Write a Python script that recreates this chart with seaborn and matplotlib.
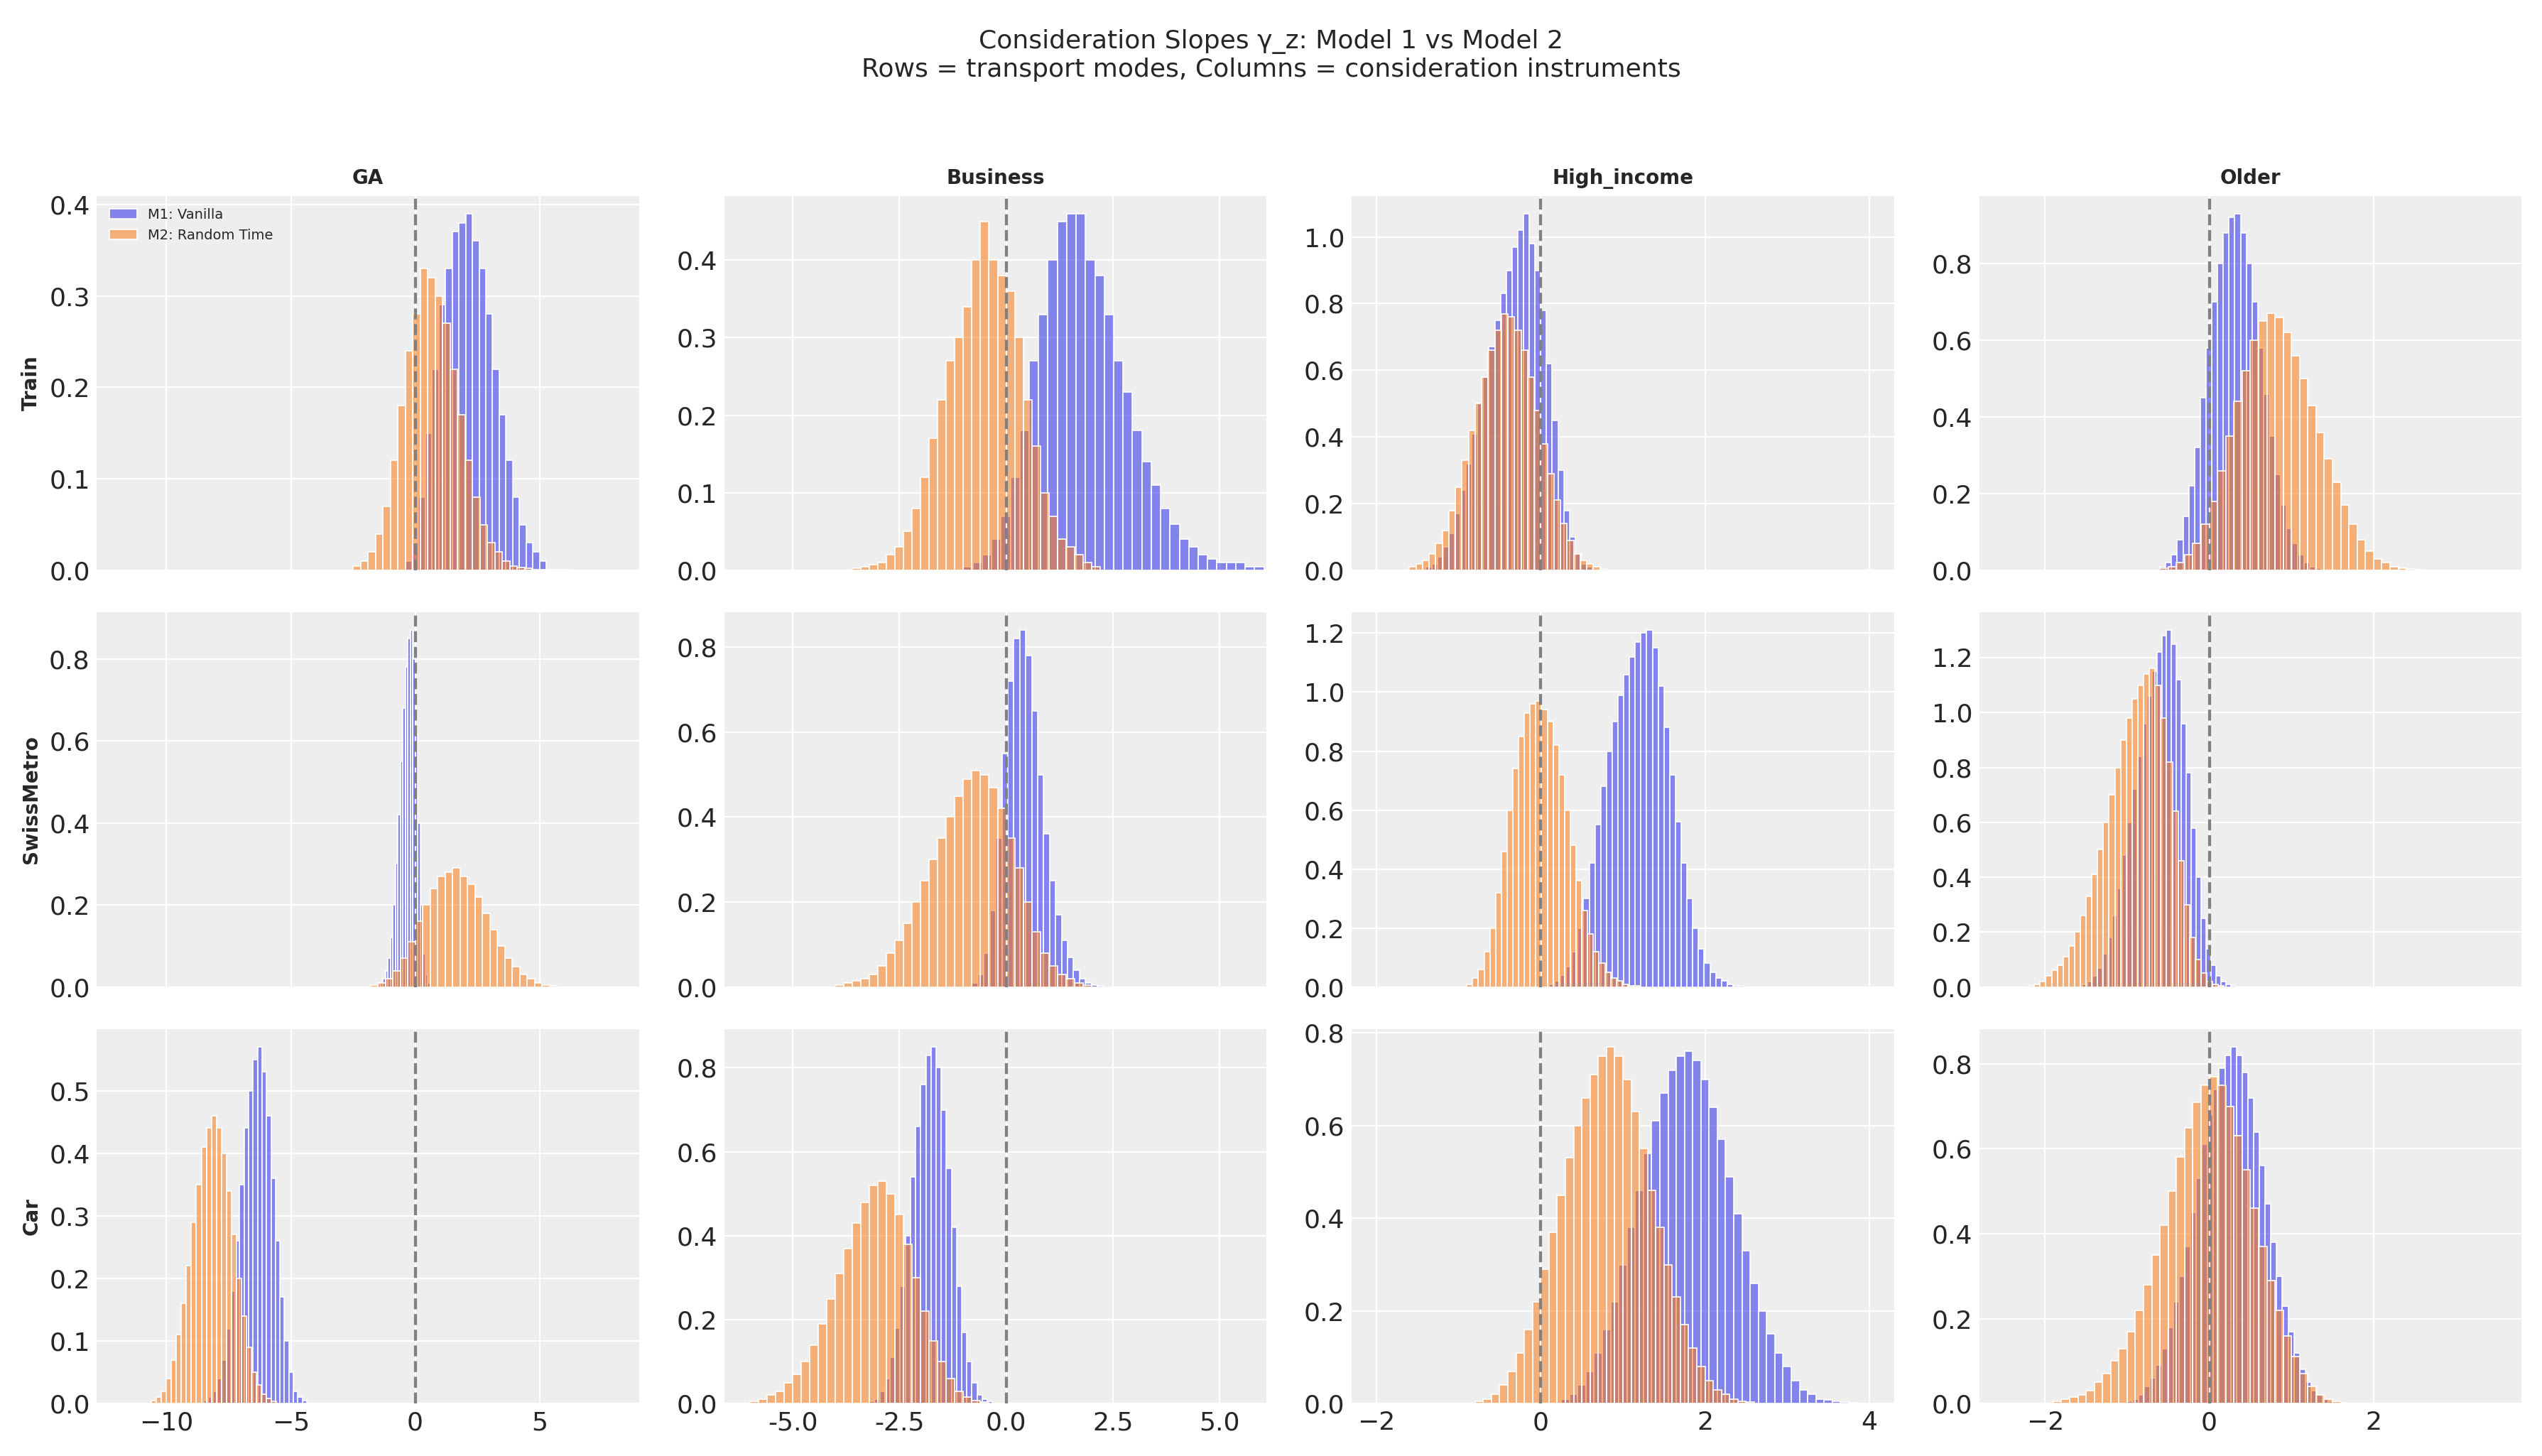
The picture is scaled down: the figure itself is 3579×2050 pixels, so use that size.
import numpy as np
import pandas as pd
import seaborn as sns
import matplotlib.pyplot as plt

rows = ['Train', 'SwissMetro', 'Car']
cols = ['GA', 'Business', 'High_income', 'Older']

# posterior histograms: (first bin left edge, bin width, densities)
m1_train = [
    (-0.4, 0.27, [0.01,0.03,0.08,0.15,0.22,0.29,0.33,0.37,0.38,0.39,0.36,0.33,0.28,0.22,0.17,0.12,0.08,0.05,0.03,0.02,0.01]),
    (-1.0, 0.22, [0.005,0.01,0.02,0.04,0.07,0.12,0.18,0.27,0.33,0.40,0.45,0.46,0.46,0.40,0.38,0.33,0.27,0.23,0.18,0.14,0.11,0.08,0.06,0.04,0.03,0.02,0.015,0.01,0.01,0.01,0.005,0.005]),
    (-1.4, 0.07, [0.01,0.02,0.04,0.07,0.11,0.17,0.24,0.32,0.41,0.50,0.58,0.67,0.75,0.83,0.90,0.97,1.02,1.07,0.98,0.90,0.78,0.62,0.45,0.30,0.18,0.10,0.05,0.02,0.01,0.005]),
    (-0.6, 0.07, [0.01,0.02,0.04,0.08,0.14,0.22,0.32,0.45,0.58,0.70,0.80,0.88,0.92,0.93,0.88,0.80,0.70,0.58,0.46,0.35,0.25,0.17,0.11,0.07,0.04,0.02,0.01,0.005,0.003,0.002]),
]
m2_train = [
    (-2.5, 0.3, [0.005,0.01,0.02,0.04,0.07,0.12,0.18,0.24,0.28,0.33,0.32,0.30,0.27,0.22,0.17,0.12,0.08,0.05,0.03,0.02,0.01,0.005,0.003,0.002,0.001,0.001,0.001,0.001,0.001]),
    (-3.6, 0.2, [0.003,0.005,0.007,0.01,0.02,0.03,0.05,0.08,0.12,0.17,0.22,0.27,0.30,0.34,0.40,0.45,0.40,0.38,0.36,0.30,0.22,0.16,0.10,0.07,0.04,0.03,0.02,0.01,0.005]),
    (-1.6, 0.08, [0.01,0.02,0.03,0.05,0.08,0.12,0.18,0.25,0.33,0.42,0.50,0.58,0.66,0.72,0.77,0.76,0.72,0.66,0.58,0.48,0.38,0.29,0.21,0.14,0.09,0.05,0.03,0.02,0.01,0.005]),
    (-0.6, 0.1, [0.005,0.01,0.02,0.04,0.07,0.12,0.18,0.26,0.35,0.44,0.52,0.60,0.65,0.67,0.66,0.62,0.56,0.50,0.43,0.36,0.29,0.23,0.17,0.12,0.08,0.05,0.03,0.02,0.01,0.005,0.003,0.002,0.001]),
]
m1_swiss = [
    (-1.5, 0.1, [0.005,0.01,0.02,0.04,0.07,0.12,0.2,0.3,0.42,0.55,0.68,0.78,0.85,0.87,0.80,0.62,0.40,0.2,0.08,0.03,0.01]),
    (-0.8, 0.14, [0.01,0.03,0.08,0.18,0.35,0.55,0.72,0.82,0.84,0.78,0.65,0.50,0.36,0.25,0.17,0.11,0.07,0.04,0.02,0.01,0.005,0.003]),
    (0.1, 0.07, [0.01,0.02,0.04,0.07,0.12,0.2,0.3,0.42,0.55,0.68,0.8,0.9,0.99,1.06,1.12,1.17,1.2,1.21,1.15,1.02,0.88,0.72,0.56,0.42,0.3,0.2,0.13,0.08,0.05,0.03,0.02,0.01,0.005,0.003]),
    (-1.6, 0.06, [0.005,0.01,0.02,0.04,0.07,0.12,0.18,0.26,0.36,0.48,0.6,0.72,0.84,0.96,1.06,1.15,1.22,1.28,1.3,1.25,1.12,0.96,0.78,0.58,0.4,0.25,0.14,0.08,0.04,0.02,0.01,0.005]),
]
m2_swiss = [
    (-1.8, 0.3, [0.005,0.01,0.02,0.04,0.07,0.11,0.16,0.2,0.24,0.27,0.28,0.29,0.27,0.25,0.22,0.18,0.14,0.1,0.07,0.05,0.03,0.02,0.01,0.005,0.003]),
    (-4.0, 0.2, [0.005,0.01,0.015,0.02,0.03,0.05,0.08,0.11,0.15,0.2,0.25,0.3,0.35,0.4,0.45,0.49,0.51,0.5,0.47,0.42,0.35,0.28,0.2,0.13,0.08,0.05,0.03,0.02,0.01,0.005]),
    (-0.9, 0.07, [0.01,0.03,0.06,0.12,0.2,0.32,0.46,0.6,0.74,0.85,0.93,0.96,0.97,0.94,0.9,0.82,0.72,0.6,0.48,0.36,0.26,0.18,0.12,0.08,0.05,0.03,0.02,0.01,0.005,0.003]),
    (-2.2, 0.07, [0.005,0.01,0.02,0.04,0.06,0.08,0.11,0.15,0.2,0.26,0.33,0.41,0.5,0.6,0.7,0.8,0.9,0.98,1.05,1.1,1.14,1.16,1.1,0.98,0.82,0.64,0.46,0.3,0.18,0.1,0.05,0.02,0.01,0.005]),
]
m1_car = [
    (-8.5, 0.18, [0.005,0.01,0.02,0.04,0.07,0.12,0.18,0.26,0.35,0.44,0.5,0.55,0.57,0.53,0.46,0.36,0.26,0.17,0.1,0.05,0.02,0.01,0.005]),
    (-3.2, 0.12, [0.005,0.01,0.03,0.06,0.11,0.18,0.28,0.4,0.54,0.66,0.76,0.83,0.85,0.8,0.7,0.56,0.42,0.28,0.17,0.1,0.05,0.02,0.01,0.005]),
    (0.25, 0.1, [0.01,0.02,0.04,0.07,0.11,0.16,0.22,0.3,0.38,0.46,0.54,0.61,0.67,0.72,0.75,0.76,0.74,0.7,0.64,0.57,0.49,0.41,0.33,0.26,0.2,0.15,0.11,0.08,0.05,0.03,0.02,0.01,0.008,0.005,0.003,0.002,0.001]),
    (-1.0, 0.07, [0.005,0.01,0.02,0.04,0.06,0.09,0.13,0.18,0.24,0.3,0.37,0.45,0.53,0.61,0.68,0.74,0.79,0.82,0.84,0.82,0.78,0.72,0.64,0.56,0.47,0.38,0.3,0.23,0.17,0.12,0.08,0.05,0.03,0.02,0.01,0.005,0.003,0.002,0.001]),
]
m2_car = [
    (-10.6, 0.2, [0.005,0.01,0.02,0.04,0.07,0.11,0.16,0.22,0.29,0.35,0.41,0.44,0.46,0.44,0.40,0.34,0.27,0.2,0.14,0.09,0.05,0.03,0.015,0.008,0.004]),
    (-6.0, 0.2, [0.005,0.01,0.02,0.03,0.05,0.07,0.1,0.14,0.19,0.25,0.31,0.37,0.43,0.48,0.52,0.53,0.5,0.45,0.38,0.3,0.22,0.15,0.1,0.06,0.03,0.015,0.008,0.004]),
    (-0.8, 0.1, [0.005,0.01,0.02,0.04,0.07,0.11,0.16,0.22,0.29,0.37,0.45,0.53,0.6,0.66,0.71,0.75,0.77,0.75,0.7,0.63,0.55,0.46,0.38,0.3,0.23,0.17,0.12,0.08,0.05,0.03,0.02,0.01,0.005,0.003]),
    (-1.9, 0.1, [0.005,0.01,0.015,0.02,0.03,0.05,0.07,0.1,0.13,0.17,0.22,0.28,0.35,0.42,0.5,0.58,0.65,0.71,0.75,0.77,0.75,0.7,0.63,0.55,0.46,0.37,0.29,0.22,0.16,0.11,0.07,0.04,0.02,0.01,0.005]),
]

m1 = [m1_train, m1_swiss, m1_car]
m2 = [m2_train, m2_swiss, m2_car]

col_xlim = [(-12.8, 9.0), (-6.6, 6.1), (-2.3, 4.3), (-2.8, 3.8)]
col_xticks = [[-10, -5, 0, 5], [-5, -2.5, 0, 2.5, 5], [-2, 0, 2, 4], [-2, 0, 2]]

sns.set_style('darkgrid', {'axes.facecolor': '#eeeeee', 'grid.color': 'white'})
plt.rcParams['font.family'] = ['DejaVu Sans']

def draw(ax, spec, color, label):
    start, width, dens = spec
    n = len(dens)
    df = pd.DataFrame({'x': start + width * (np.arange(n) + 0.5), 'w': dens})
    sns.histplot(data=df, x='x', weights='w', binwidth=width, binrange=(start, start + n * width),
                 ax=ax, color=color, alpha=0.55, edgecolor='white', linewidth=0.6, label=label)

fig, axes = plt.subplots(3, 4, figsize=(17.9, 10.25), dpi=200, sharex='col')
for i, r in enumerate(rows):
    for j, c in enumerate(cols):
        ax = axes[i, j]
        draw(ax, m1[i][j], '#2a2eec', 'M1: Vanilla')
        draw(ax, m2[i][j], '#fa7c17', 'M2: Random Time')
        ax.axvline(0, color='grey', ls='--', lw=1.5)
        ax.set_ylabel(r if j == 0 else '', fontsize=10, fontweight='bold')
        ax.set_xlabel('')
        ax.set_xlim(*col_xlim[j])
        ax.set_xticks(col_xticks[j])
        ax.tick_params(labelsize=13, length=0)
        for s in ax.spines.values():
            s.set_visible(False)
        if i == 0:
            ax.set_title(c, fontsize=10, fontweight='bold')
axes[0, 1].set_xticklabels(['-5.0', '-2.5', '0.0', '2.5', '5.0'])
axes[0, 0].legend(loc='upper left', fontsize=7, frameon=False)

fig.suptitle('Consideration Slopes γ_z: Model 1 vs Model 2\nRows = transport modes, Columns = consideration instruments',
             fontsize=13)
fig.tight_layout(rect=[0, 0, 1, 0.95])
fig.savefig('out.png')
